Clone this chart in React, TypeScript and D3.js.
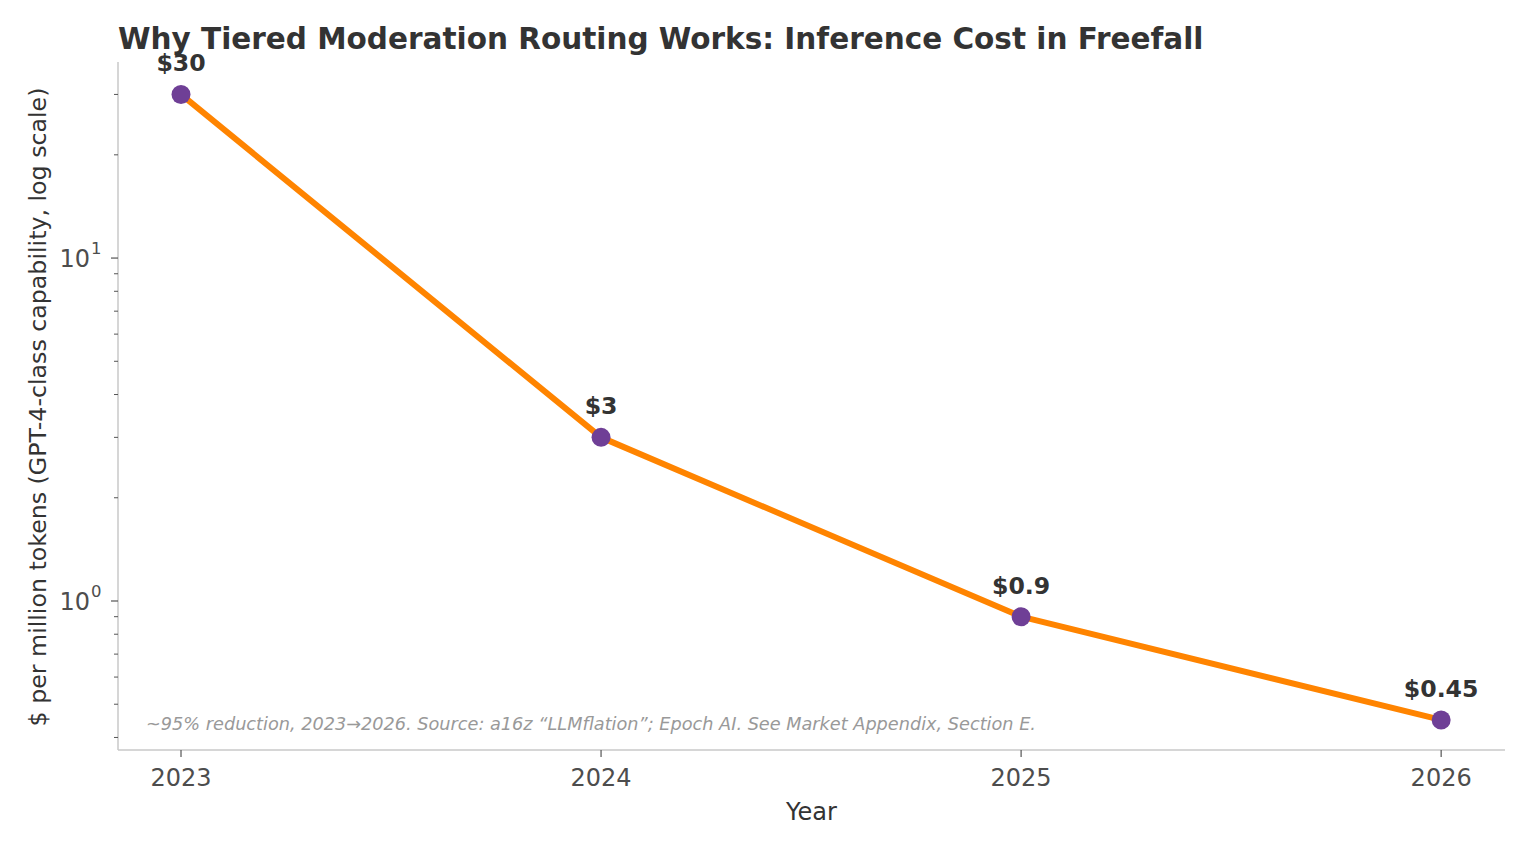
import React from "react";
import * as d3 from "d3";

const years = [2023, 2024, 2025, 2026];
const costs = [30, 3, 0.9, 0.45];
const costLabels = ["$30", "$3", "$0.9", "$0.45"];
const majorTicks = [1, 10];
const minorTicks = [0.4, 0.5, 0.6, 0.7, 0.8, 0.9, 2, 3, 4, 5, 6, 7, 8, 9, 20, 30];

const W = 1530;
const H = 850;
const m = { left: 118, right: 1505, top: 62, bottom: 750 };
const FONT = "DejaVu Sans, sans-serif";

export default function App() {
  const x = d3.scaleLinear().domain([2022.85, 2026.152]).range([m.left, m.right]);
  const y = d3.scaleLog().domain([0.3677, 37.3]).range([m.bottom, m.top]);
  const pts = years.map((yr, i) => ({ yr, v: costs[i], label: costLabels[i] }));
  const line = d3
    .line<{ yr: number; v: number }>()
    .x((d) => x(d.yr))
    .y((d) => y(d.v));

  return (
    <svg width={W} height={H} style={{ position: "absolute", left: 0, top: 0 }} fontFamily={FONT}>
      <rect width={W} height={H} fill="#fff" />
      {/* title */}
      <text x={118} y={49} fontSize={29.5} fontWeight="bold" fill="#333">
        Why Tiered Moderation Routing Works: Inference Cost in Freefall
      </text>

      {/* spines */}
      <line x1={m.left} x2={m.left} y1={m.top} y2={m.bottom} stroke="#c8c8c8" strokeWidth={1.5} />
      <line x1={m.left} x2={m.right} y1={m.bottom} y2={m.bottom} stroke="#c8c8c8" strokeWidth={1.5} />

      {/* y ticks */}
      {minorTicks.map((t) => (
        <line key={"mn" + t} x1={m.left - 4} x2={m.left} y1={y(t)} y2={y(t)} stroke="#555" strokeWidth={1} />
      ))}
      {majorTicks.map((t) => (
        <g key={"mj" + t}>
          <line x1={m.left - 7} x2={m.left} y1={y(t)} y2={y(t)} stroke="#555" strokeWidth={1.2} />
          <text x={m.left - 28} y={y(t) + 9} textAnchor="end" fontSize={24} fill="#4d4d4d">
            10
          </text>
          <text x={m.left - 27} y={y(t) - 4} fontSize={16.5} fill="#4d4d4d">
            {Math.round(Math.log10(t))}
          </text>
        </g>
      ))}

      {/* x ticks */}
      {years.map((yr) => (
        <g key={"x" + yr}>
          <line x1={x(yr)} x2={x(yr)} y1={m.bottom} y2={m.bottom + 7} stroke="#555" strokeWidth={1.2} />
          <text x={x(yr)} y={m.bottom + 36} textAnchor="middle" fontSize={24} fill="#4d4d4d">
            {yr}
          </text>
        </g>
      ))}

      {/* axis labels */}
      <text x={(m.left + m.right) / 2} y={820} textAnchor="middle" fontSize={24} fill="#333">
        Year
      </text>
      <text
        transform={`translate(46, ${(m.top + m.bottom) / 2 + 1}) rotate(-90)`}
        textAnchor="middle"
        fontSize={23.7}
        fill="#333"
      >
        $ per million tokens (GPT-4-class capability, log scale)
      </text>

      {/* series */}
      <path d={line(pts) || ""} fill="none" stroke="#ff8400" strokeWidth={6} strokeLinejoin="round" />
      {pts.map((p) => (
        <g key={"p" + p.yr}>
          <circle cx={x(p.yr)} cy={y(p.v)} r={9.5} fill="#6f3f96" />
          <text x={x(p.yr)} y={y(p.v) - 23} textAnchor="middle" fontSize={23.6} fontWeight="bold" fill="#333">
            {p.label}
          </text>
        </g>
      ))}

      {/* footnote */}
      <text x={146} y={730} fontSize={17.7} fontStyle="italic" fill="#999">
        ~95% reduction, 2023→2026. Source: a16z “LLMflation”; Epoch AI. See Market Appendix, Section E.
      </text>
    </svg>
  );
}
